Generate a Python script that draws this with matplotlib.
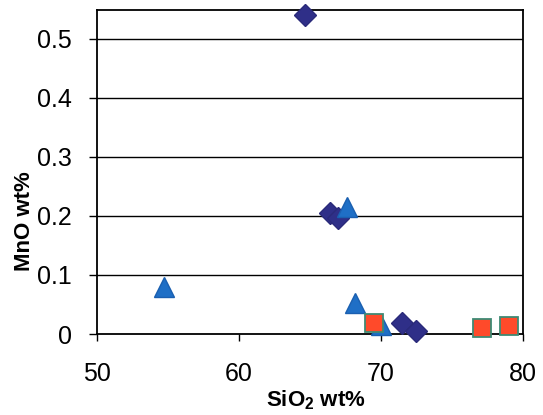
import matplotlib
matplotlib.use("Agg")
import matplotlib.pyplot as plt
from matplotlib.ticker import FuncFormatter

plt.rcParams['font.family'] = ['Liberation Sans', 'DejaVu Sans']
plt.rcParams['mathtext.fontset'] = 'custom'
plt.rcParams['mathtext.rm'] = 'Liberation Sans'
plt.rcParams['mathtext.bf'] = 'Liberation Sans:bold'

# Data (SiO2 wt%, MnO wt%)
diamond_x = [64.65, 66.4, 67.0, 71.45, 72.45]
diamond_y = [0.540, 0.205, 0.197, 0.018, 0.005]
triangle_x = [54.7, 67.6, 68.2, 70.0]
triangle_y = [0.080, 0.216, 0.052, 0.015]
square_x = [69.5, 77.1, 79.0]
square_y = [0.018, 0.011, 0.014]

x_ticks = [50, 60, 70, 80]
y_ticks = [0, 0.1, 0.2, 0.3, 0.4, 0.5]

fig = plt.figure(figsize=(5.43, 4.15), dpi=100)
ax = fig.add_axes([97/543, 81/415, 426/543, 324/415])

ax.set_xlim(50, 80)
ax.set_ylim(0, 0.549)

for yv in y_ticks[1:]:
    ax.axhline(yv, color='black', lw=1.0, zorder=1)

ax.plot(diamond_x, diamond_y, linestyle='none', marker='D', ms=11,
        color='#2f2f88', markeredgecolor='#2a2a7a', zorder=3, clip_on=False)
ax.plot(triangle_x, triangle_y, linestyle='none', marker='^', ms=14,
        color='#1f6fc6', markeredgecolor='#1a5fb0', zorder=4, clip_on=False)
ax.plot(square_x, square_y, linestyle='none', marker='s', ms=13,
        color='#ff4a2a', markeredgecolor='#3f8a74', markeredgewidth=1.3,
        zorder=5, clip_on=False)

ax.set_xticks(x_ticks)
ax.set_yticks(y_ticks)
ax.yaxis.set_major_formatter(FuncFormatter(lambda v, p: '0' if v == 0 else f'{v:.1f}'))
ax.tick_params(axis='x', direction='out', length=5, width=1, pad=15, labelsize=18)
ax.tick_params(axis='y', direction='out', length=6, width=1, pad=12, labelsize=18)
for s in ax.spines.values():
    s.set_linewidth(1.3)
    s.set_color('black')

fig.text(316/543, 1 - 406/415, 'SiO$_\\mathbf{2}$ wt%', ha='center', va='baseline',
         fontsize=16, fontweight='bold')
fig.text(24.5/543, 1 - 221/415, 'MnO wt%', ha='center', va='center', rotation=90,
         fontsize=16, fontweight='bold')

fig.savefig('out.png', dpi=100)
